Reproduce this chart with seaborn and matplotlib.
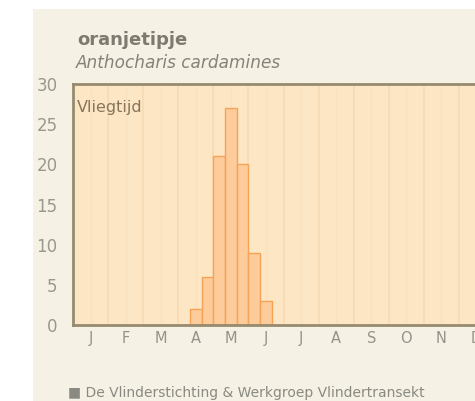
import pandas as pd
import matplotlib.pyplot as plt
import seaborn as sns
from matplotlib.patches import Rectangle

# data: flight period counts per 10-day period (decade of the year)
months = ["J", "F", "M", "A", "M", "J", "J", "A", "S", "O", "N", "D"]
decades = [10, 11, 12, 13, 14, 15, 16]   # 0 = first decade of January
counts = [2, 6, 21, 27, 20, 9, 3]

title = "oranjetipje"
subtitle = "Anthocharis cardamines"
footer = "\u25a0 De Vlinderstichting & Werkgroep Vlindertransekt"

df = pd.DataFrame({"decade": [d + 0.5 for d in decades], "count": counts})

sns.set_style("white")
plt.rcParams["font.family"] = ["DejaVu Sans"]

W, H = 475, 401
fig = plt.figure(figsize=(W / 100, H / 100), dpi=100, facecolor="white")

# cream page background with a white margin on the left and top
fig.patches.append(Rectangle((33 / W, 0), 1, 1 - 9 / H, transform=fig.transFigure,
                             facecolor="#f5f1e4", edgecolor="none", zorder=-1))

# axes run past the right edge of the picture, like the cropped screenshot
left, right, top, bottom = 73, 494, 84, 325
ax = fig.add_axes([left / W, 1 - bottom / H, (right - left) / W, (bottom - top) / H])
ax.set_zorder(1)
ax.set_facecolor("#fde6c4")

# faint month grid lines
for k in range(1, 12):
    ax.axvline(3 * k, color="#f7dab4", lw=1.2, zorder=0.5)
for k in range(12):
    ax.axvline(3 * k + 1.5, color="#fae0bd", lw=0.8, zorder=0.5)

sns.barplot(data=df, x="decade", y="count", native_scale=True, width=1,
            color="#fdcc9a", edgecolor="#f4a358", linewidth=1.0, saturation=1,
            ax=ax, zorder=2)

ax.set_xlim(0, 36)
ax.set_ylim(0, 30)
ax.set_xlabel("")
ax.set_ylabel("")

ax.set_xticks([3 * k for k in range(13)])
ax.set_xticklabels([])
ax.set_xticks([3 * k + 1.5 for k in range(12)], minor=True)
ax.set_xticklabels(months, minor=True)
ax.tick_params(axis="x", which="major", direction="inout", length=7, width=1.2,
               color="#8f8a78")
ax.tick_params(axis="x", which="minor", length=0, pad=4, labelsize=10.5,
               labelcolor="#94928a")
ax.set_yticks([0, 5, 10, 15, 20, 25, 30])
ax.tick_params(axis="y", direction="out", length=7, width=1.5, color="#8f8a78",
               labelsize=12, labelcolor="#9a978f", pad=4)

for side in ["top", "left", "bottom"]:
    ax.spines[side].set_color("#968b70")
    ax.spines[side].set_linewidth(2)
ax.spines["right"].set_visible(False)

ax.text(0.3, 28.0, "Vliegtijd", fontsize=11.5, color="#85765c", va="top", ha="left")

fig.text(77 / W, 1 - 40 / H, title, fontsize=13, fontweight="bold",
         color="#7f7a70", va="center", ha="left")
fig.text(76 / W, 1 - 63 / H, subtitle, fontsize=12.2, style="italic",
         color="#86827a", va="center", ha="left")
fig.text(68 / W, 1 - 393 / H, footer, fontsize=10, color="#8a8a82",
         va="center", ha="left")

fig.savefig("out.png", dpi=100, facecolor=fig.get_facecolor())
